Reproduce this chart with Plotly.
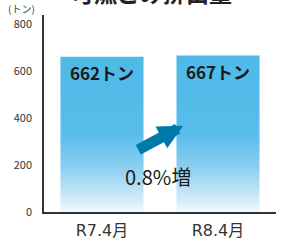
import plotly.graph_objects as go

categories = ["R7.4月", "R8.4月"]
values = [662, 667]
value_labels = ["662トン", "667トン"]
change_label = "0.8%増"
title_text = "可燃ごみ排出量"
unit_label = "(トン)"
y_ticks = [0, 200, 400, 600, 800]

FONT = "Noto Sans CJK JP"
BAR_W = 0.716

# gradient rectangles built from the data values
xs, ys = [], []
for i, v in enumerate(values):
    l, r = i - BAR_W / 2, i + BAR_W / 2
    xs += [l, r, r, l, l, None]
    ys += [0, 0, v, v, 0, None]

fig = go.Figure()
fig.add_trace(go.Scatter(
    x=xs, y=ys, mode="lines", fill="toself", line=dict(width=0),
    fillgradient=dict(type="vertical",
                      colorscale=[[0, "#f0f8fd"], [0.12, "#c4e6f7"], [0.3, "#86cdf0"],
                                  [0.5, "#58bdea"], [1, "#4eb9e8"]]),
    hoverinfo="skip", showlegend=False))

for i, (v, t) in enumerate(zip(values, value_labels)):
    fig.add_annotation(x=i, y=v, text=t, showarrow=False, yanchor="top", yshift=-1,
                       font=dict(family=FONT, size=17, color="#1a1a1a", weight="bold"))

# arrow
fig.add_annotation(x=0.70, y=368, ax=0.30, ay=262, axref="x", ayref="y",
                   showarrow=True, arrowhead=2, arrowsize=0.45, arrowwidth=11,
                   arrowcolor="#0079a8", text="")
fig.add_annotation(x=0.48, y=150, text=change_label, showarrow=False,
                   font=dict(family=FONT, size=20, color="#1a1a1a"))

fig.add_annotation(xref="paper", yref="paper", x=0.462, y=1.02, xanchor="center",
                   yanchor="bottom", text=title_text, showarrow=False,
                   font=dict(family=FONT, size=23, color="#222", weight="bold"))
fig.add_annotation(xref="paper", yref="paper", x=-0.095, y=1.035, xanchor="center",
                   yanchor="middle", text=unit_label, showarrow=False,
                   font=dict(family=FONT, size=10, color="#444"))

fig.update_layout(
    width=282, height=240,
    margin=dict(l=44, r=6, t=15, b=28),
    plot_bgcolor="white", paper_bgcolor="white",
    xaxis=dict(range=[-0.5, 1.5], tickvals=[0, 1], ticktext=categories, automargin=False,
               showgrid=False, zeroline=False, showline=True, linecolor="#333",
               linewidth=1.5, ticks="", ticklabelstandoff=3,
               tickfont=dict(family="DejaVu Sans, " + FONT, size=16, color="#333")),
    yaxis=dict(range=[0, 840], tickvals=y_ticks, showgrid=False, zeroline=False, automargin=False,
               showline=True, linecolor="#333", linewidth=1.5, ticks="",
               ticklabelstandoff=8,
               tickfont=dict(family=FONT, size=11, color="#333")),
)

fig.write_html("out.html", config={"displayModeBar": False},
               post_script="document.body.style.margin='0';document.body.style.overflow='hidden';")
